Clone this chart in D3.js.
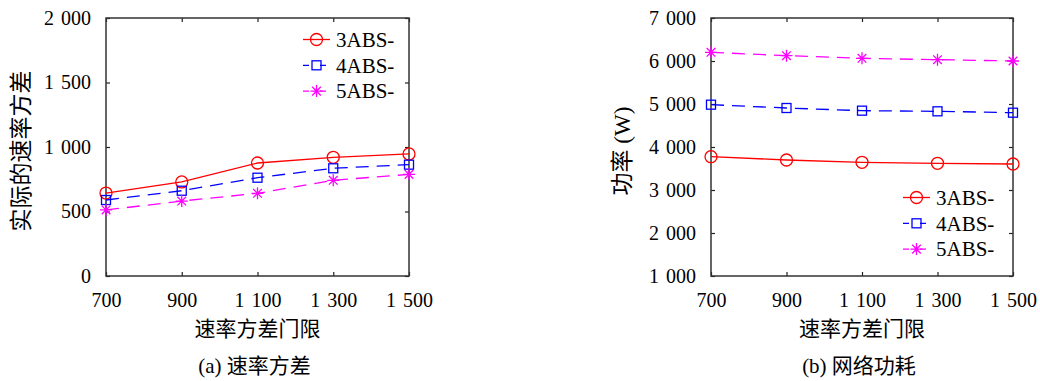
<!DOCTYPE html>
<html>
<head>
<meta charset="utf-8">
<script src="https://cdn.jsdelivr.net/npm/d3@7"></script>
<style>
  html, body { margin: 0; padding: 0; background: #fff; }
  svg text { font-family: "Liberation Serif", "Noto Sans CJK SC", serif; fill: #000; }
</style>
</head>
<body>
<svg id="chart" width="1040" height="381"></svg>
<script>
// ---- data ----
const thresholds = [700, 900, 1100, 1300, 1500];
const seriesNames = ["3ABS-", "4ABS-", "5ABS-"];
const variance3 = [643, 729, 876, 920, 946];
const variance4 = [589, 661, 762, 835, 863];
const variance5 = [512, 581, 641, 742, 788];
const power3 = [3775, 3698, 3644, 3621, 3605];
const power4 = [4984, 4907, 4845, 4830, 4798];
const power5 = [6202, 6124, 6062, 6031, 6000];
const varianceTicks = [0, 500, 1000, 1500, 2000];
const powerTicks = [1000, 2000, 3000, 4000, 5000, 6000, 7000];
const xLabel = "速率方差门限";
const varianceYLabel = "实际的速率方差";
const powerYLabel = "功率 (W)";
const captionA = "(a) 速率方差";
const captionB = "(b) 网络功耗";

const colors = ["#ff0000", "#0000ff", "#ff00ff"];
const dashes = [null, "13,8", "13,8"];
const markers = ["circle", "square", "asterisk"];

const svg = d3.select("#chart");
const fmt = v => d3.format(",")(v).replace(/,/g, " ");

function drawMarker(g, type, x, y, color) {
  if (type === "circle") {
    g.append("circle").attr("cx", x).attr("cy", y).attr("r", 6)
      .attr("fill", "none").attr("stroke", color).attr("stroke-width", 1.3);
  } else if (type === "square") {
    g.append("rect").attr("x", x - 4.5).attr("y", y - 4.5).attr("width", 9).attr("height", 9)
      .attr("fill", "none").attr("stroke", color).attr("stroke-width", 1.3);
  } else {
    const r = 6, d = r * 0.72;
    const p = `M${x},${y - r}L${x},${y + r}M${x - r},${y}L${x + r},${y}` +
              `M${x - d},${y - d}L${x + d},${y + d}M${x - d},${y + d}L${x + d},${y - d}`;
    g.append("path").attr("d", p).attr("stroke", color).attr("stroke-width", 1.3).attr("fill", "none");
  }
}

function drawPanel(cfg) {
  const g = svg.append("g");
  const x = d3.scalePoint().domain(thresholds).range([cfg.left, cfg.right]);
  const y = d3.scaleLinear().domain(cfg.yDomain).range([cfg.bottom, cfg.top]);

  const styleAxis = sel => {
    sel.select(".domain").remove();
    sel.selectAll(".tick line").attr("stroke", "#222").attr("stroke-width", 1.2);
    sel.selectAll(".tick text").attr("font-size", 20).style("word-spacing", "2px")
      .attr("fill", "#000");
  };

  g.append("g").attr("transform", `translate(0,${cfg.bottom})`)
    .call(d3.axisBottom(x).tickSizeInner(-4).tickSizeOuter(0).tickPadding(17).tickFormat(fmt))
    .call(styleAxis);
  g.append("g").attr("transform", `translate(0,${cfg.top})`)
    .call(d3.axisTop(x).tickSizeInner(-4).tickSizeOuter(0).tickFormat(""))
    .call(styleAxis);
  g.append("g").attr("transform", `translate(${cfg.left},0)`)
    .call(d3.axisLeft(y).tickValues(cfg.yTicks).tickSizeInner(-4).tickSizeOuter(0).tickPadding(15).tickFormat(fmt))
    .call(styleAxis);
  g.append("g").attr("transform", `translate(${cfg.right},0)`)
    .call(d3.axisRight(y).tickValues(cfg.yTicks).tickSizeInner(-4).tickSizeOuter(0).tickFormat(""))
    .call(styleAxis);

  g.append("rect").attr("x", cfg.left).attr("y", cfg.top)
    .attr("width", cfg.right - cfg.left).attr("height", cfg.bottom - cfg.top)
    .attr("fill", "none").attr("stroke", "#333").attr("stroke-width", 1.5);

  const line = d3.line().x((d, i) => x(thresholds[i])).y(d => y(d));
  cfg.series.forEach((vals, si) => {
    g.append("path").datum(vals).attr("d", line)
      .attr("fill", "none").attr("stroke", colors[si]).attr("stroke-width", 1.3)
      .attr("stroke-dasharray", dashes[si]);
    vals.forEach((v, i) => drawMarker(g, markers[si], x(thresholds[i]), y(v), colors[si]));
  });

  // legend
  seriesNames.forEach((name, si) => {
    const ly = cfg.legendY + si * 25.8;
    const lx = cfg.legendX;
    g.append("line").attr("x1", lx).attr("x2", lx + 27).attr("y1", ly).attr("y2", ly)
      .attr("stroke", colors[si]).attr("stroke-width", 1.3)
      .attr("stroke-dasharray", si === 0 ? null : "6,3.5,0,7.5,6");
    drawMarker(g, markers[si], lx + 13.5, ly, colors[si]);
    g.append("text").attr("x", lx + 33).attr("y", ly).attr("dy", "0.35em")
      .attr("font-size", 21).text(name);
  });

  const cx = (cfg.left + cfg.right) / 2;
  g.append("text").attr("x", cx).attr("y", 336).attr("text-anchor", "middle")
    .attr("font-size", 21).text(xLabel);
  g.append("text").attr("x", cx - 3).attr("y", 373).attr("text-anchor", "middle")
    .attr("font-size", 21).text(cfg.caption);
  g.append("text")
    .attr("transform", `translate(${cfg.yLabelX},${(cfg.top + cfg.bottom) / 2 + 4}) rotate(-90)`)
    .attr("text-anchor", "middle").attr("dy", "0.35em")
    .attr("font-size", 23).text(cfg.yLabel);
}

drawPanel({
  left: 106, right: 409, top: 18, bottom: 276,
  yDomain: [0, 2000], yTicks: varianceTicks,
  series: [variance3, variance4, variance5],
  legendX: 303, legendY: 39.5,
  caption: captionA, yLabel: varianceYLabel, yLabelX: 21
});
drawPanel({
  left: 711, right: 1013, top: 18, bottom: 276,
  yDomain: [1000, 7000], yTicks: powerTicks,
  series: [power3, power4, power5],
  legendX: 903, legendY: 197.5,
  caption: captionB, yLabel: powerYLabel, yLabelX: 622
});
</script>
</body>
</html>
